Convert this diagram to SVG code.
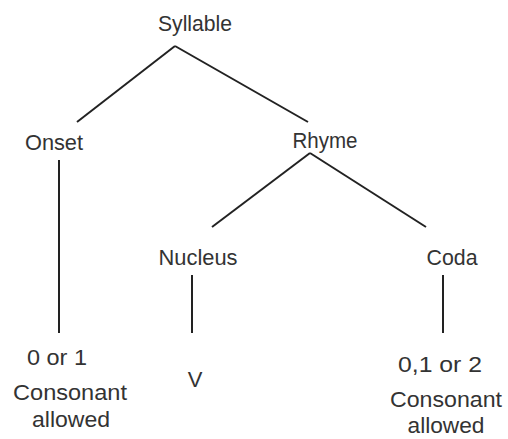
<svg xmlns="http://www.w3.org/2000/svg" width="508" height="439" viewBox="0 0 508 439">
<style>
text{font-family:"Liberation Sans",Arial,sans-serif;font-size:22px;fill:#333;text-anchor:middle}
.c line{stroke:#222;stroke-width:2;fill:none}
</style>
<rect width="508" height="439" fill="#fff"/>
<g class="c" id="connectors">
<line x1="175" y1="46" x2="77" y2="122"/>
<line x1="175" y1="46" x2="308" y2="122"/>
<line x1="310" y1="153" x2="212" y2="227"/>
<line x1="310" y1="153" x2="426" y2="227"/>
<line x1="59" y1="160" x2="59" y2="333"/>
<line x1="192" y1="275" x2="192" y2="333"/>
<line x1="443" y1="275" x2="443" y2="333"/>
</g>
<g id="syllable"><text x="195" y="31" textLength="74" lengthAdjust="spacingAndGlyphs">Syllable</text></g>
<g id="onset"><text x="54" y="150" textLength="58" lengthAdjust="spacingAndGlyphs">Onset</text></g>
<g id="rhyme"><text x="325" y="148" textLength="65" lengthAdjust="spacingAndGlyphs">Rhyme</text></g>
<g id="nucleus"><text x="198" y="265" textLength="79" lengthAdjust="spacingAndGlyphs">Nucleus</text></g>
<g id="coda"><text x="452" y="265" textLength="51" lengthAdjust="spacingAndGlyphs">Coda</text></g>
<g id="onset-leaf"><text x="57" y="365" textLength="60" lengthAdjust="spacingAndGlyphs">0 or 1</text><text x="70" y="400" textLength="114" lengthAdjust="spacingAndGlyphs">Consonant</text><text x="71" y="427" textLength="78" lengthAdjust="spacingAndGlyphs">allowed</text></g>
<g id="nucleus-leaf"><text x="195" y="387">V</text></g>
<g id="coda-leaf"><text x="440" y="372" textLength="84" lengthAdjust="spacingAndGlyphs">0,1 or 2</text><text x="446" y="407" textLength="112" lengthAdjust="spacingAndGlyphs">Consonant</text><text x="446" y="433" textLength="77" lengthAdjust="spacingAndGlyphs">allowed</text></g>
</svg>
